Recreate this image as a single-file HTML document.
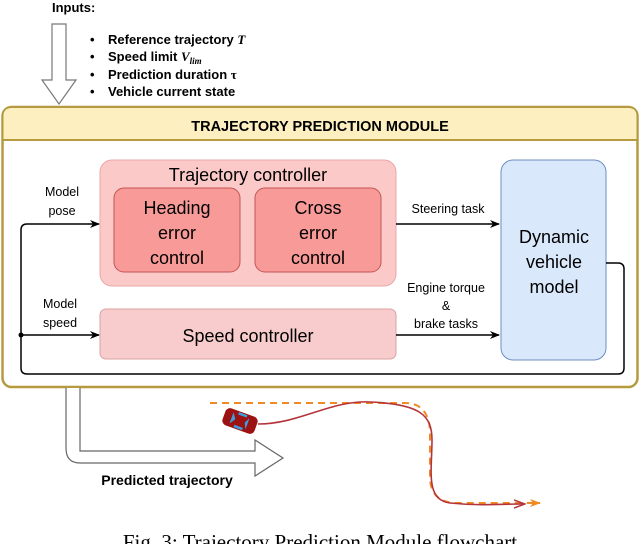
<!DOCTYPE html>
<html><head><meta charset="utf-8"><style>
body{margin:0;background:#fff;}
svg text{font-family:"Liberation Sans",sans-serif;}
</style></head><body>
<svg width="640" height="544" viewBox="0 0 640 544" xmlns="http://www.w3.org/2000/svg">
<defs>
<marker id="a" markerWidth="10" markerHeight="10" refX="9" refY="5" orient="auto" markerUnits="userSpaceOnUse"><path d="M0,1 L10,5 L0,9 L3,5 z" fill="#000"/></marker>
<marker id="o" markerWidth="12" markerHeight="10" refX="10" refY="5" orient="auto" markerUnits="userSpaceOnUse"><path d="M0,1 L11,5 L0,9 L3,5 z" fill="#f08a24"/></marker>
<marker id="r" markerWidth="12" markerHeight="10" refX="10" refY="5" orient="auto" markerUnits="userSpaceOnUse"><path d="M0,1 L11,5 L0,9" fill="none" stroke="#b5343a" stroke-width="1.5"/></marker>
</defs>
<text x="52" y="12" font-size="13" font-weight="bold">Inputs:</text>
<path d="M52,24 H66 V80 H76 L59,104 L42,80 H52 Z" fill="#fff" stroke="#777" stroke-width="1.2"/>
<g font-size="13" font-weight="bold">
<text x="90" y="44">•</text><text x="108" y="44">Reference trajectory <tspan font-family="Liberation Serif" font-style="italic">T</tspan></text>
<text x="90" y="61">•</text><text x="108" y="61">Speed limit <tspan font-family="Liberation Serif" font-style="italic">V</tspan><tspan font-family="Liberation Serif" font-style="italic" font-size="9" dy="3">lim</tspan></text>
<text x="90" y="79">•</text><text x="108" y="79">Prediction duration <tspan font-family="Liberation Serif">τ</tspan></text>
<text x="90" y="96">•</text><text x="108" y="96">Vehicle current state</text>
</g>
<rect x="2.5" y="107" width="635" height="280" rx="9" fill="#fff" stroke="#b59a40" stroke-width="2.5"/>
<path d="M3.5,140 V116 Q3.5,108 12,108 H628 Q636.5,108 636.5,116 V140 Z" fill="#fdefbf"/>
<line x1="3" y1="140" x2="637" y2="140" stroke="#b59a40" stroke-width="2"/>
<text x="320" y="131" font-size="14.5" font-weight="bold" text-anchor="middle">TRAJECTORY PREDICTION MODULE</text>
<rect x="100" y="160" width="296" height="126" rx="12" fill="#fcc9c9" stroke="#eaa7a7"/>
<text x="248" y="181" font-size="18" text-anchor="middle">Trajectory controller</text>
<rect x="114" y="188" width="126" height="84" rx="10" fill="#f89b98" stroke="#c25553"/>
<rect x="255" y="188" width="126" height="84" rx="10" fill="#f89b98" stroke="#c25553"/>
<rect x="100" y="309" width="296" height="50" rx="6" fill="#f8cccc" stroke="#d9a3a3"/>
<rect x="501" y="160" width="105" height="200" rx="12" fill="#dae8fc" stroke="#6c8ebf"/>
<g font-size="18" text-anchor="middle">
<text x="177" y="214">Heading</text><text x="177" y="239">error</text><text x="177" y="264">control</text>
<text x="318" y="214">Cross</text><text x="318" y="239">error</text><text x="318" y="264">control</text>
<text x="248" y="342">Speed controller</text>
<text x="554" y="243">Dynamic</text><text x="554" y="268">vehicle</text><text x="554" y="293">model</text>
</g>
<g font-size="12.5" text-anchor="middle">
<text x="62" y="196">Model</text><text x="62" y="215">pose</text>
<text x="60" y="308">Model</text><text x="60" y="327">speed</text>
<text x="448" y="213">Steering task</text>
<text x="446" y="292">Engine torque</text><text x="446" y="310">&amp;</text><text x="446" y="328">brake tasks</text>
</g>
<g fill="none" stroke="#000" stroke-width="1.5">
<line x1="396" y1="224" x2="499" y2="224" marker-end="url(#a)"/>
<line x1="396" y1="335" x2="499" y2="335" marker-end="url(#a)"/>
<path d="M606,263 H618 Q624,263 624,269 V368 Q624,374 618,374 H27 Q21,374 21,368 V230 Q21,224 27,224 H99" marker-end="url(#a)"/>
<line x1="21" y1="335" x2="99" y2="335" marker-end="url(#a)"/>
</g>
<circle cx="21" cy="335" r="2.5" fill="#000"/>
<path d="M66,388 V448 Q66,463 80,463 H255 V476 L283,458 L255,440 V451 H80 V388" fill="#fff" stroke="#666" stroke-width="1.2"/>
<text x="167" y="485" font-size="14" font-weight="bold" text-anchor="middle">Predicted trajectory</text>
<path d="M210,403 H405 Q428,403 430,430 V480 Q432,502 455,503 H540" fill="none" stroke="#f08a24" stroke-width="2" stroke-dasharray="7,5" marker-end="url(#o)"/>
<path d="M258,424 C300,424 330,400 370,402 C420,404 432,415 432,440 C432,470 425,500 450,503 C480,506 500,504 524,504" fill="none" stroke="#b5343a" stroke-width="1.6" marker-end="url(#r)"/>
<g transform="translate(240,421) rotate(20)">
<rect x="-17" y="-9" width="34" height="18" rx="5" fill="#9c1111"/>
<path d="M-9,-6 L-5,0 L-9,6 Z M8,-6 L5,0 L8,6 Z" fill="#3aa0e0"/>
<rect x="-4" y="-8" width="9" height="2.5" fill="#3aa0e0"/><rect x="-4" y="5.5" width="9" height="2.5" fill="#3aa0e0"/>
</g>
<text x="320" y="549" font-size="21" text-anchor="middle" style="font-family:'Liberation Serif',serif">Fig. 3: Trajectory Prediction Module flowchart</text>
</svg>
</body></html>
